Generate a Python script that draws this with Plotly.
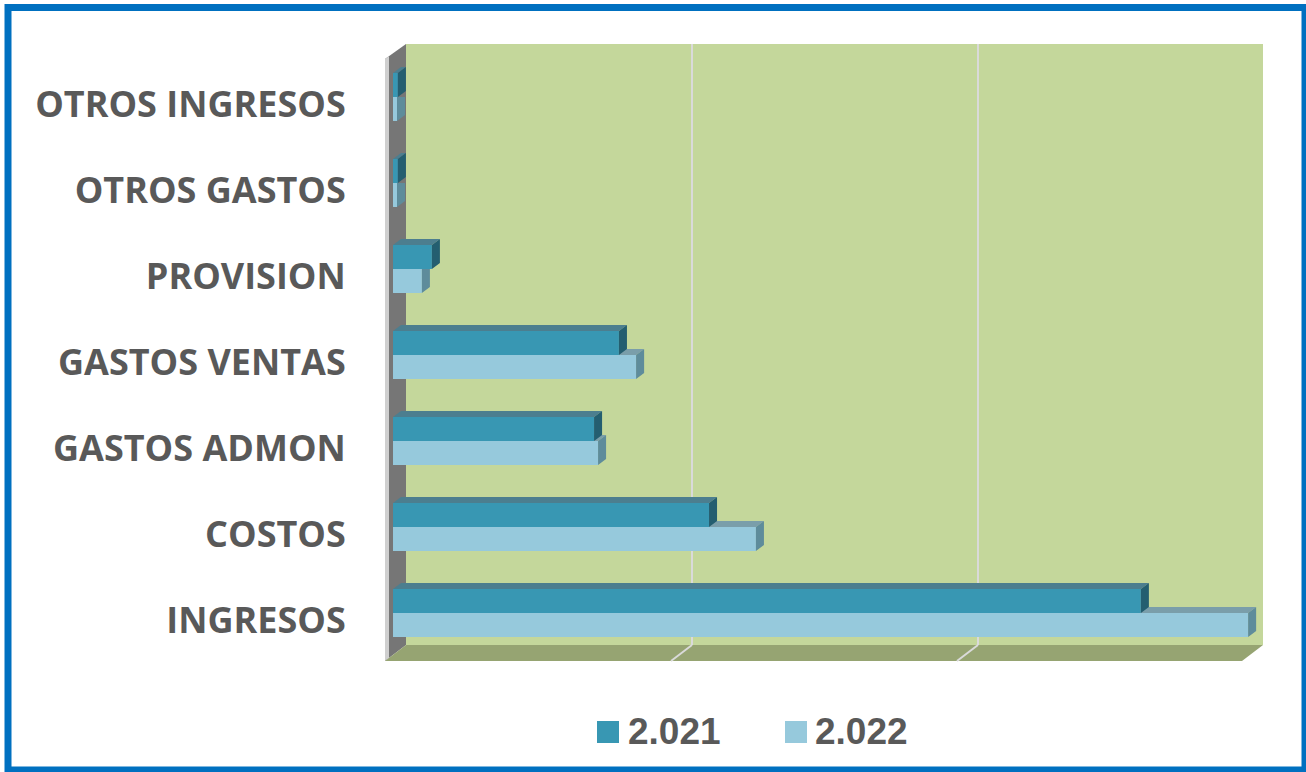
import plotly.graph_objects as go

# ---------------- data ----------------
categories = ["INGRESOS", "COSTOS", "GASTOS ADMON", "GASTOS VENTAS",
              "PROVISION", "OTROS GASTOS", "OTROS INGRESOS"]
series_names = ["2.021", "2.022"]
values_2021 = [2615, 1105, 703, 790, 136, 17, 17]
values_2022 = [2990, 1269, 717, 850, 101, 14, 14]
grid_step = 1000

# ---------------- styling ----------------
W, H = 1306, 772
L, R, T, B = 385, 43, 44, 111          # plot area margins (px)
PW, PH = W - L - R, H - T - B
X_RANGE = [-28, 3042]
Y_RANGE = [-0.558, 6.616]
BAR_W = 0.279
DX = 28          # depth offset in x data units
DY = 0.07        # depth offset in y data units

C21 = dict(front="#3897B3", top="#4C7E8F", side="#245E70")
C22 = dict(front="#96C9DC", top="#7A9EAA", side="#5E8C9B")
GREEN = "#C4D79B"
FLOOR = "#96A472"
GRID = "#DADADA"
TXT = "#595959"


def px(xp):
    return (xp - L) / PW


def py(yp):
    return (H - B - yp) / PH


def x_to_px(v):
    return L + (v - X_RANGE[0]) / (X_RANGE[1] - X_RANGE[0]) * PW


ypos = list(range(len(categories)))

fig = go.Figure()

# front faces (real bar traces)
fig.add_trace(go.Bar(y=ypos, x=values_2022, orientation="h", name=series_names[1],
                     width=BAR_W, offset=-BAR_W, marker=dict(color=C22["front"], line=dict(width=0)),
                     showlegend=False))
fig.add_trace(go.Bar(y=ypos, x=values_2021, orientation="h", name=series_names[0],
                     width=BAR_W, offset=0, marker=dict(color=C21["front"], line=dict(width=0)),
                     showlegend=False))


def poly_trace(polys, color):
    xs, ys = [], []
    for p in polys:
        for (a, b) in p:
            xs.append(a)
            ys.append(b)
        xs.append(p[0][0]); ys.append(p[0][1])
        xs.append(None); ys.append(None)
    return go.Scatter(x=xs, y=ys, mode="lines", fill="toself", fillcolor=color,
                      line=dict(width=0, color=color), hoverinfo="skip", showlegend=False)


# 3D faces for 2022 (clipped where hidden behind 2021 front)
top22, side22 = [], []
for i, (v1, v2) in enumerate(zip(values_2021, values_2022)):
    y0, y1 = i - BAR_W, i
    if v2 > v1:
        top22.append([(v1, y1), (v2, y1), (v2 + DX, y1 + DY), (v1, y1 + DY)])
        side22.append([(v2, y0), (v2, y1), (v2 + DX, y1 + DY), (v2 + DX, y0 + DY)])
    else:
        side22.append([(v2, y0), (v2, y1), (v2 + DX, y1), (v2 + DX, y0 + DY)])
fig.add_trace(poly_trace(top22, C22["top"]))
fig.add_trace(poly_trace(side22, C22["side"]))

# 3D faces for 2021
top21, side21 = [], []
for i, v1 in enumerate(values_2021):
    y0, y1 = i, i + BAR_W
    top21.append([(0, y1), (v1, y1), (v1 + DX, y1 + DY), (DX, y1 + DY)])
    side21.append([(v1, y0), (v1, y1), (v1 + DX, y1 + DY), (v1 + DX, y0 + DY)])
fig.add_trace(poly_trace(top21, C21["top"]))
fig.add_trace(poly_trace(side21, C21["side"]))

# ---------------- background: walls, floor, grid ----------------
shapes = []
# back wall
shapes.append(dict(type="rect", xref="paper", yref="paper", x0=px(406), x1=px(1263),
                   y0=py(645), y1=py(44), fillcolor=GREEN, line=dict(width=0), layer="below"))
# left side wall
shapes.append(dict(type="path", xref="paper", yref="paper",
                   path=f"M{px(385)},{py(59)} L{px(406)},{py(44)} L{px(406)},{py(645)} L{px(385)},{py(661)} Z",
                   fillcolor="#767676", line=dict(width=0), layer="below"))
shapes.append(dict(type="path", xref="paper", yref="paper",
                   path=f"M{px(385)},{py(59)} L{px(389)},{py(56)} L{px(389)},{py(658)} L{px(385)},{py(661)} Z",
                   fillcolor="#CFCFCF", line=dict(width=0), layer="below"))
# floor
shapes.append(dict(type="path", xref="paper", yref="paper",
                   path=f"M{px(385)},{py(661)} L{px(406)},{py(645)} L{px(1263)},{py(645)} L{px(1242)},{py(661)} Z",
                   fillcolor=FLOOR, line=dict(width=0), layer="below"))
# gridlines (back wall + floor)
k = 1
while True:
    gv = k * grid_step
    back = x_to_px(gv) + 13
    front = x_to_px(gv) - 8
    if back >= 1255:
        break
    shapes.append(dict(type="line", xref="paper", yref="paper", x0=px(back), x1=px(back),
                       y0=py(645), y1=py(44), line=dict(color=GRID, width=2), layer="below"))
    shapes.append(dict(type="line", xref="paper", yref="paper", x0=px(front), x1=px(back),
                       y0=py(661), y1=py(645), line=dict(color=GRID, width=2), layer="below"))
    k += 1

# outer blue border
shapes.append(dict(type="rect", xref="paper", yref="paper", x0=px(8), x1=px(1305),
                   y0=py(770), y1=py(7.5), line=dict(color="#0070C0", width=7),
                   fillcolor="rgba(0,0,0,0)", layer="above"))

# legend (manual)
annotations = []
legend_items = [(series_names[0], C21["front"], 597, 628),
                (series_names[1], C22["front"], 785, 815)]
for name, col, sx, tx in legend_items:
    shapes.append(dict(type="rect", xref="paper", yref="paper", x0=px(sx), x1=px(sx + 22),
                       y0=py(743), y1=py(721), fillcolor=col, line=dict(width=0)))
    annotations.append(dict(xref="paper", yref="paper", x=px(tx - 2), y=py(731), text=name,
                            showarrow=False, xanchor="left", yanchor="middle",
                            font=dict(family="Liberation Sans, Arial", size=37, color=TXT,
                                      weight="bold")))

fig.update_layout(
    width=W, height=H,
    margin=dict(l=L, r=R, t=T, b=B, pad=0),
    paper_bgcolor="white", plot_bgcolor="rgba(0,0,0,0)",
    barmode="overlay",
    showlegend=False,
    shapes=shapes, annotations=annotations,
    xaxis=dict(range=X_RANGE, showgrid=False, zeroline=False, showticklabels=False,
               showline=False, ticks=""),
    yaxis=dict(range=Y_RANGE, tickmode="array", tickvals=ypos, ticktext=categories,
               showgrid=False, zeroline=False, showline=False,
               ticks="outside", ticklen=31, tickcolor="rgba(0,0,0,0)",
               ticklabelshift=7,
               tickfont=dict(family="Open Sans", size=36, color=TXT, weight="bold")),
    hovermode=False,
)

fig.write_html("out.html", post_script="document.body.style.margin='0';",
               config={"displayModeBar": False})
